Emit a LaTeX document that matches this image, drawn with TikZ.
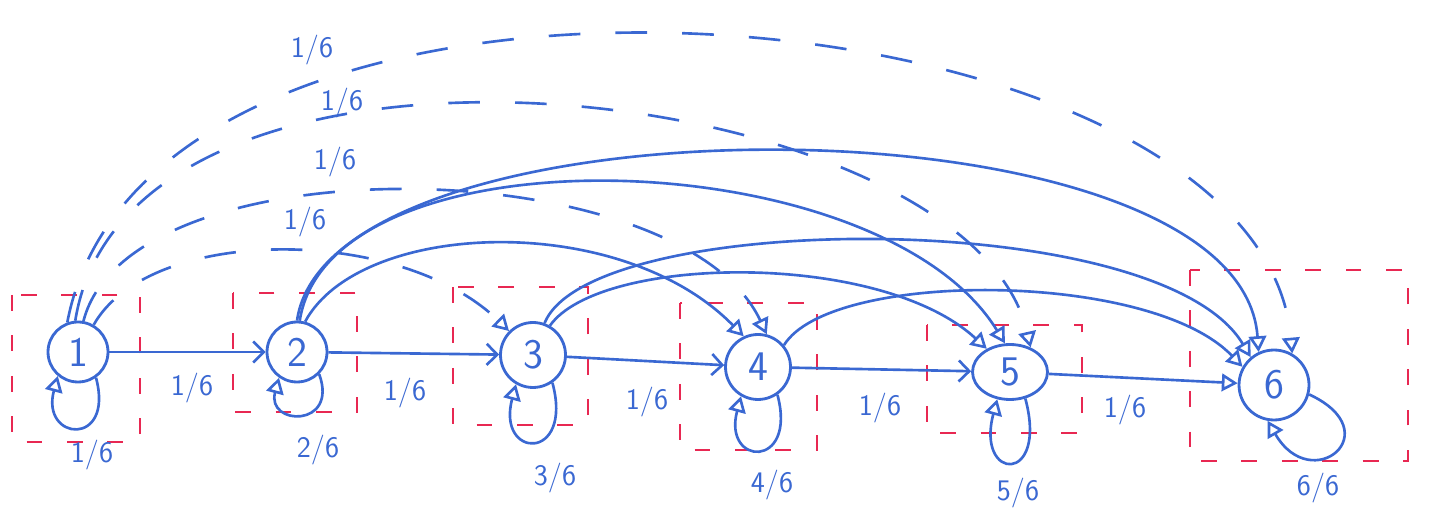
\documentclass[tikz,border=0pt]{standalone}
\usetikzlibrary{arrows.meta,shapes.geometric}
\definecolor{pen}{RGB}{58,104,210}
\definecolor{mark}{RGB}{232,40,82}
\begin{document}
\begin{tikzpicture}[x=0.02cm,y=-0.02cm,
  st/.style={circle,draw=pen,line width=1.6pt,text=pen,inner sep=0pt,
    font=\fontsize{24}{26}\selectfont\sffamily},
  lab/.style={text=pen,font=\fontsize{17}{19}\selectfont\sffamily},
  opentip/.style={-{Triangle[open,length=9pt,width=10pt]}},
  hline/.style={draw=pen,line width=1.5pt,-{Straight Barb[length=6pt,width=12pt]}},
  hlinetri/.style={draw=pen,line width=1.5pt,opentip},
  arc/.style={draw=pen,line width=1.5pt,opentip},
  dasharc/.style={draw=pen,line width=1.5pt,dash pattern=on 18pt off 20pt,opentip},
  loopst/.style={draw=pen,line width=1.5pt,opentip},
  groupbox/.style={draw=mark,line width=1.5pt,dash pattern=on 9pt off 14pt}
]
\useasboundingbox (0,0) rectangle (1429,516);

% group boxes
\draw[groupbox] (12,295) rectangle (140,442);
\draw[groupbox] (233,293) rectangle (357,412);
\draw[groupbox] (453,287) rectangle (588,425);
\draw[groupbox] (680,303) rectangle (817,450);
\draw[groupbox] (927,325) rectangle (1082,433);
\draw[groupbox] (1190,270) rectangle (1408,461);

% states
\node[st,minimum size=1.2cm] (n1) at (78,352) {1};
\node[st,minimum size=1.2cm] (n2) at (297,352) {2};
\node[st,minimum size=1.3cm] (n3) at (533,355) {3};
\node[st,minimum size=1.3cm] (n4) at (758,367) {4};
\node[st,ellipse,minimum width=1.5cm,minimum height=1.1cm] (n5) at (1010,372) {5};
\node[st,minimum size=1.4cm] (n6) at (1274,385) {6};

% chain arrows
\draw[hline] (n1) -- (n2);
\draw[hline] (n2) -- (n3);
\draw[hline] (n3) -- (n4);
\draw[hline] (n4) -- (n5);
\draw[hlinetri] (n5) -- (n6);

% self loops
\draw[loopst] (n1.-55) .. controls +(-75:1.45cm) and +(-105:1.35cm) .. (n1.-130);
\draw[loopst] (n2.-45) .. controls +(-70:1.15cm) and +(-105:1.0cm) .. (n2.-125);
\draw[loopst] (n3.-55) .. controls +(-75:1.65cm) and +(-105:1.55cm) .. (n3.-120);
\draw[loopst] (n4.-55) .. controls +(-75:1.55cm) and +(-105:1.45cm) .. (n4.-120);
\draw[loopst] (n5.-60) .. controls +(-75:1.8cm) and +(-105:1.7cm) .. (n5.-115);
\draw[loopst] (n6.-15) .. controls +(-25:1.8cm) and +(-60:1.75cm) .. (n6.-100);

% dashed arcs from state 1
\draw[dasharc] (n1.60) .. controls (150,225) and (400,225) .. (n3.135);
\draw[dasharc] (n1.80) .. controls (130,140) and (680,150) .. (n4.75);
\draw[dasharc] (n1.95) .. controls (130,-20) and (970,80) .. (n5.50);
\draw[dasharc] (n1.110) .. controls (150,-110) and (1260,-20) .. (n6.60);

% solid arcs
\draw[arc] (n2.75) .. controls (360,220) and (620,210) .. (n4.115);
\draw[arc] (n2.85) .. controls (330,125) and (880,140) .. (n5.100);
\draw[arc] (n2.90) .. controls (330,90) and (1240,90) .. (n6.115);
\draw[arc] (n3.60) .. controls (600,255) and (880,250) .. (n5.135);
\draw[arc] (n3.70) .. controls (590,210) and (1160,205) .. (n6.130);
\draw[arc] (n4.40) .. controls (830,270) and (1150,270) .. (n6.150);

% labels
\node[lab] (l12) at (192,388) {1/6};
\node[lab] (l23) at (405,393) {1/6};
\node[lab] (l34) at (647,402) {1/6};
\node[lab] (l45) at (880,408) {1/6};
\node[lab] (l56) at (1125,410) {1/6};
\node[lab] (s1) at (92,455) {1/6};
\node[lab] (s2) at (318,450) {2/6};
\node[lab] (s3) at (555,478) {3/6};
\node[lab] (s4) at (772,485) {4/6};
\node[lab] (s5) at (1018,493) {5/6};
\node[lab] (s6) at (1318,488) {6/6};
\node[lab] (d16) at (312,50) {1/6};
\node[lab] (d15) at (342,103) {1/6};
\node[lab] (d14) at (335,162) {1/6};
\node[lab] (d13) at (305,222) {1/6};
\end{tikzpicture}
\end{document}
